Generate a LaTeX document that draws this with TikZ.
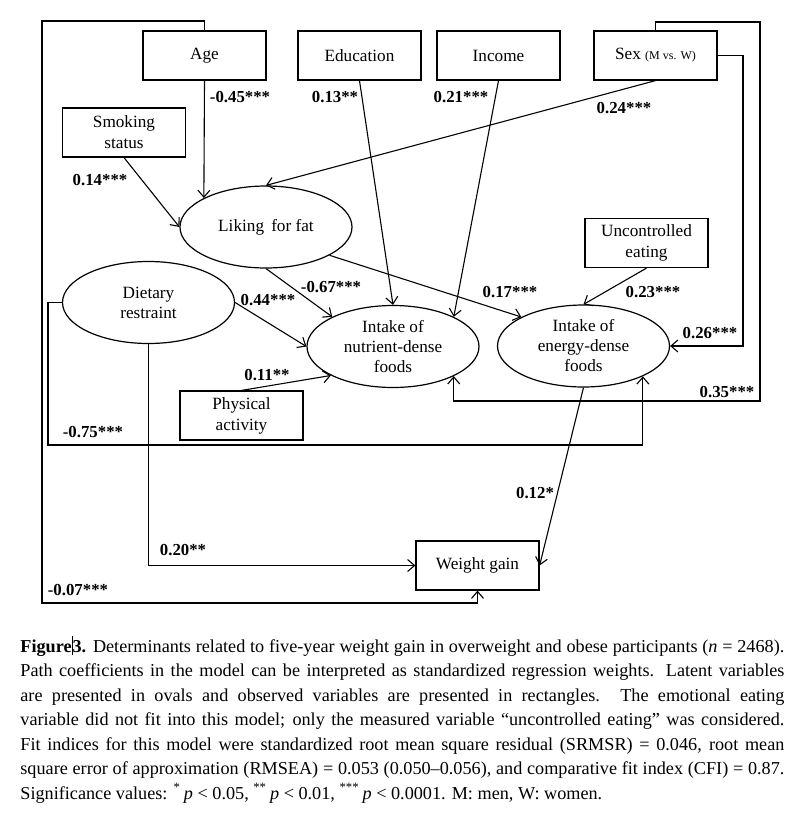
\documentclass[tikz,border=0pt]{standalone}
\usepackage{fontspec}
\setmainfont{Liberation Serif}
\usetikzlibrary{shapes.geometric,arrows.meta}

\begin{document}
\begin{tikzpicture}[x=0.5pt,y=-0.5pt,
  obs node/.style={draw,line width=0.6pt,minimum width=61.5pt,minimum height=24.5pt,inner sep=1pt,align=center,font=\fontsize{8.6}{10.5}\selectfont},
  lat node/.style={ellipse,draw,line width=0.6pt,minimum width=86pt,minimum height=41pt,inner sep=0pt,align=center,font=\fontsize{8.6}{10}\selectfont},
  coef/.style={inner sep=0pt,font=\bfseries\fontsize{8.4}{10}\selectfont},
  path line/.style={->,line width=0.55pt},
  >={Straight Barb[length=3.5pt,width=6pt]}]

\useasboundingbox (0,0) rectangle (799,814);

\node[obs node] (age) at (204.5,55.5) {Age};
\node[obs node] (edu) at (359.5,55.5) {Education};
\node[obs node] (inc) at (498.5,55.5) {Income};
\node[obs node] (sex) at (655.5,55.5) {Sex {\fontsize{6}{7}\selectfont (M vs. W)}};
\node[obs node] (smoke) at (124,132.5) {Smoking\\status};
\node[obs node] (unc) at (646.5,243) {Uncontrolled\\eating};
\node[obs node] (phys) at (241.5,415.5) {Physical\\activity};
\node[obs node] (wg) at (477.5,565.5) {Weight gain};

\node[lat node] (lik) at (266,227) {Liking\, for fat};
\node[lat node] (diet) at (148.5,302.5) {Dietary\\restraint};
\node[lat node] (nut) at (393,346.5) {Intake of\\nutrient-dense\\foods};
\node[lat node] (en) at (583.5,346) {Intake of\\energy-dense\\foods};

\coordinate (tl) at (42,21);
\coordinate (bl) at (42,603);
\coordinate (sexr) at (743,346);
\coordinate (tr) at (760,22);
\coordinate (br) at (760,401);
\coordinate (dl) at (48,445);

% loops round the model
\draw[path line] (age.north) |- (tl) -- (bl) -| (wg.south);
\draw[path line] (sex.east) -| (sexr) -- (en.east);
\draw[path line] (sex.north) |- (tr) -- (br) -| (nut.-26);
\draw[path line] (diet.west) -| (dl) -| (en.-27);
\draw[path line] (diet.south) |- (wg.west);

% straight paths
\draw[path line] (age.south) -- (lik.155);
\draw[path line] (smoke.south) -- (lik.west);
\draw[path line] (sex.south) -- (lik.north);
\draw[path line] (edu.south) -- (nut.north);
\draw[path line] (inc.south) -- (nut.26);
\draw[path line] (lik.-24) -- (en.155);
\draw[path line] (lik.south) -- (nut.154);
\draw[path line] (diet.east) -- (nut.west);
\draw[path line] (phys.north) -- (nut.205);
\draw[path line] (unc.south) -- (en.north);
\draw[path line] (en.south) -- (wg.east);

% coefficients
\node[coef] (c1) at (240,97) {-0.45***};
\node[coef] (c2) at (335,97) {0.13**};
\node[coef] (c3) at (461,97) {0.21***};
\node[coef] (c4) at (624,108) {0.24***};
\node[coef] (c5) at (100,180) {0.14***};
\node[coef] (c6) at (331,287) {-0.67***};
\node[coef] (c7) at (268,300) {0.44***};
\node[coef] (c8) at (510,292) {0.17***};
\node[coef] (c9) at (653,292) {0.23***};
\node[coef] (c10) at (710,333) {0.26***};
\node[coef] (c11) at (727,392) {0.35***};
\node[coef] (c12) at (267,375) {0.11**};
\node[coef] (c13) at (93,432) {-0.75***};
\node[coef] (c14) at (183,550) {0.20**};
\node[coef] (c15) at (78,590) {-0.07***};
\node[coef] (c16) at (535,493) {0.12*};

% caption
\node[anchor=north west,inner sep=0pt,text width=382pt,align=justify,font=\fontsize{9.1}{12.25}\selectfont] (cap) at (20,636) {\noindent
{\bfseries Figure}\rule[-1.5pt]{0.5pt}{9.5pt}{\bfseries 3.} Determinants related to five-year weight gain in overweight and obese participants (\textit{n} = 2468).\linebreak
Path coefficients in the model can be interpreted as standardized regression weights. Latent variables\linebreak
are presented in ovals and observed variables are presented in rectangles. The emotional eating\linebreak
variable did not fit into this model; only the measured variable “uncontrolled eating” was considered.\linebreak
Fit indices for this model were standardized root mean square residual (SRMSR) = 0.046, root mean\linebreak
square error of approximation (RMSEA) = 0.053 (0.050–0.056), and comparative fit index (CFI) = 0.87.\linebreak
Significance values: \textsuperscript{*}\,\textit{p} < 0.05, \textsuperscript{**}\,\textit{p} < 0.01, \textsuperscript{***}\,\textit{p} < 0.0001. M: men, W: women.};
\end{tikzpicture}
\end{document}
